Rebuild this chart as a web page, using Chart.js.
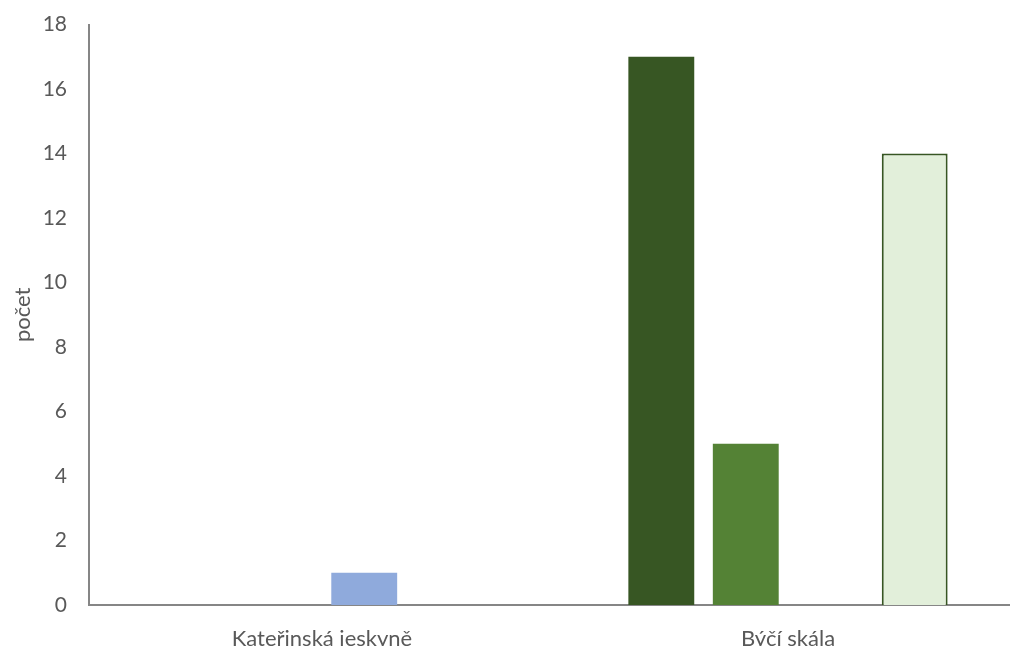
<!DOCTYPE html>
<html>
<head>
<meta charset="utf-8">
<script src="https://cdn.jsdelivr.net/npm/chart.js@4/dist/chart.umd.min.js"></script>
<style>
  html, body { margin: 0; padding: 0; background: #fff; overflow: hidden; }
  #wrap { width: 1040px; height: 648px; margin-top: -2px; }
</style>
</head>
<body>
<div id="wrap"><canvas id="chart" width="1040" height="648"></canvas></div>
<script>
const categories = ['Kateřinská jeskyně', 'Býčí skála']
const darkValues = [null, 17]
const midValues = [null, 5]
const blueValues = [1, null]
const lightValues = [null, 14]
const yTicks = [0, 2, 4, 6, 8, 10, 12, 14, 16, 18]

const font = "'Lato', 'Open Sans', sans-serif"
const textColor = '#595959'
const axisColor = '#868686'

function bar(data, fill, border, bw) {
    return {
        data: data,
        backgroundColor: fill,
        borderColor: border || fill,
        borderWidth: bw || 0,
        categoryPercentage: 0.725,
        barPercentage: 0.78
    }
}

new Chart(document.getElementById('chart'), {
    type: 'bar',
    data: {
        labels: categories,
        datasets: [
            bar(darkValues, '#375623'),
            bar(midValues, '#548235'),
            bar(blueValues, '#8faadc'),
            bar(lightValues, '#e2efda', '#375623', 2)
        ]
    },
    options: {
        responsive: false,
        animation: false,
        layout: { padding: { top: 15, right: 19, left: 0, bottom: 0 } },
        plugins: { legend: { display: false }, tooltip: { enabled: false } },
        scales: {
            x: {
                grid: { display: false },
                border: { display: true, color: axisColor, width: 2 },
                ticks: { color: textColor, font: { family: font, size: 22 }, padding: 13, maxRotation: 0 },
                afterFit: s => { s.height = 41 }
            },
            y: {
                min: 0,
                max: 18,
                afterBuildTicks: s => { s.ticks = yTicks.map(v => ({ value: v })) },
                grid: { display: false },
                border: { display: true, color: axisColor, width: 2 },
                ticks: { color: textColor, font: { family: font, size: 21 }, padding: 14 },
                title: { display: true, text: 'počet', color: textColor, font: { family: font, size: 22 }, padding: { top: 10, bottom: 0 } },
                afterFit: s => { s.width = 89 }
            }
        }
    }
})
</script>
</body>
</html>
